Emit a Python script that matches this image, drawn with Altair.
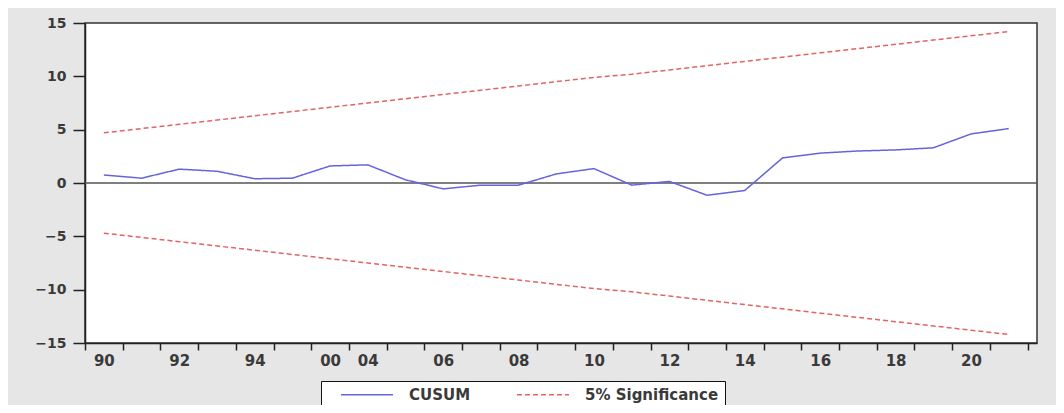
import altair as alt
import pandas as pd

years = ["1990", "1991", "1992", "1993", "1994", "1995", "2000", "2004", "2005",
         "2006", "2007", "2008", "2009", "2010", "2011", "2012", "2013", "2014",
         "2015", "2016", "2017", "2018", "2019", "2020", "2021"]
cusum = [0.75, 0.45, 1.3, 1.1, 0.4, 0.45, 1.6, 1.7, 0.3, -0.55, -0.2, -0.2, 0.85,
         1.35, -0.2, 0.15, -1.15, -0.7, 2.35, 2.8, 3.0, 3.1, 3.3, 4.6, 5.1]
upper = [4.7, 5.1, 5.5, 5.9, 6.3, 6.7, 7.1, 7.5, 7.9, 8.3, 8.7, 9.1, 9.5, 9.9,
         10.2, 10.6, 11.0, 11.4, 11.8, 12.2, 12.6, 13.0, 13.4, 13.8, 14.2]
lower = [-4.7, -5.1, -5.5, -5.9, -6.3, -6.7, -7.1, -7.5, -7.9, -8.3, -8.7, -9.1,
         -9.5, -9.9, -10.2, -10.6, -11.0, -11.4, -11.8, -12.2, -12.6, -13.0,
         -13.4, -13.8, -14.2]
series_names = ["CUSUM", "5% Significance"]
y_ticks = [-15, -10, -5, 0, 5, 10, 15]
zero_line = [0]

rows = []
for part, name, vals in [("cusum", "CUSUM", cusum),
                         ("upper", "5% Significance", upper),
                         ("lower", "5% Significance", lower)]:
    for yr, v in zip(years, vals):
        rows.append({"year": yr, "value": v, "series": name, "part": part})
df = pd.DataFrame(rows)

FONT = "DejaVu Sans"
TXT = "#3a3a3a"

x_enc = alt.X(
    "year:O",
    sort=years,
    bandPosition=0.5,
    scale=alt.Scale(type="band", domain=years, paddingInner=0, paddingOuter=0.125, align=0),
    axis=alt.Axis(
        title=None,
        tickBand="extent",
        tickSize=7,
        tickColor="#222",
        tickWidth=1.5,
        domainColor="#222",
        domainWidth=1.5,
        labelAngle=0,
        labelFont=FONT,
        labelFontSize=15,
        labelFontWeight="bold",
        labelColor=TXT,
        labelPadding=3,
        labelOverlap=False,
        labelExpr="isValid(datum.value) && toNumber(datum.value) % 2 == 0 ? substring(datum.value, 2, 4) : ''",
    ),
)

lines = alt.Chart(df).mark_line(strokeWidth=1.5).encode(
    x=x_enc,
    y=alt.Y(
        "value:Q",
        scale=alt.Scale(domain=[-15, 15], nice=False, zero=False),
        axis=alt.Axis(
            title=None,
            values=y_ticks,
            tickSize=12,
            tickColor="#222",
            tickWidth=1.5,
            domainColor="#222",
            domainWidth=1.5,
            grid=False,
            labelFont=FONT,
            labelFontSize=14,
            labelFontWeight="bold",
            labelColor=TXT,
            labelPadding=7,
        ),
    ),
    color=alt.Color(
        "series:N",
        scale=alt.Scale(domain=series_names, range=["#6464dc", "#e46464"]),
        legend=alt.Legend(title=None),
    ),
    strokeDash=alt.StrokeDash(
        "series:N",
        scale=alt.Scale(domain=series_names, range=[[1, 0], [5, 3]]),
        legend=alt.Legend(title=None),
    ),
    detail="part:N",
)

zero = alt.Chart(pd.DataFrame({"z": zero_line})).mark_rule(
    color="#555", strokeWidth=1.5
).encode(y="z:Q")

chart = (
    alt.layer(zero, lines)
    .properties(
        width=952,
        height=320,
        autosize=alt.AutoSizeParams(type="none"),
        padding={"left": 77, "top": 15, "right": 19, "bottom": 62},
        background="#e6e6e6",
    )
    .configure_view(fill="white", stroke="#333", strokeWidth=1.5)
    .configure_legend(
        orient="none",
        legendX=236,
        legendY=358,
        direction="horizontal",
        strokeColor="#111",
        fillColor="white",
        padding=6,
        cornerRadius=0,
        symbolType="M1,0L9,0",
        symbolSize=169,
        symbolStrokeWidth=1.5,
        labelOffset=67,
        labelFont=FONT,
        labelFontSize=15,
        labelFontWeight="bold",
        labelColor=TXT,
        columnPadding=32,
        labelLimit=400,
    )
)

chart.save("out.html", embed_options={"renderer": "svg", "actions": False})
